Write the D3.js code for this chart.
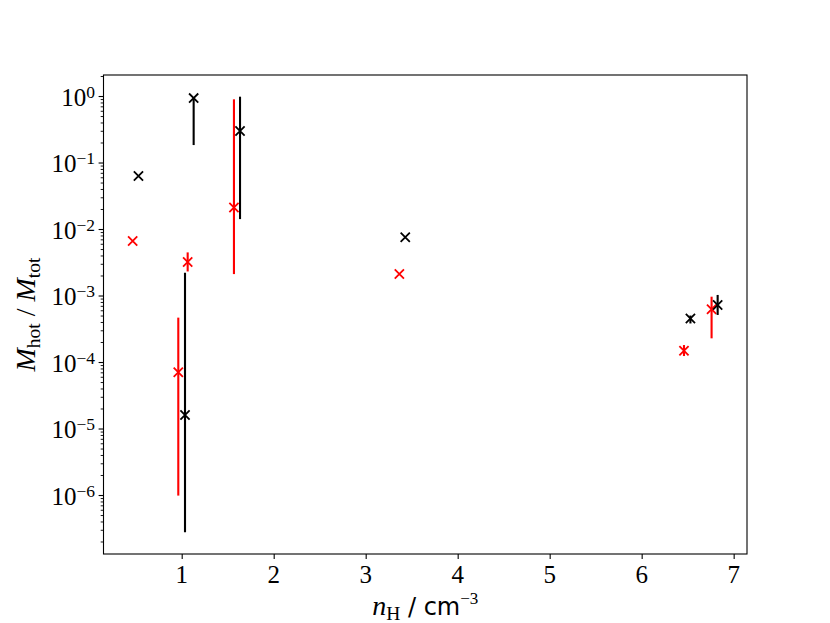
<!DOCTYPE html>
<html>
<head>
<meta charset="utf-8">
<script src="https://cdn.jsdelivr.net/npm/d3@7"></script>
<style>
    body { margin: 0; background: #fff; }
    .tick-lbl { font-family: "Liberation Serif", serif; font-size: 25px; fill: #000; }
</style>
</head>
<body>
<div id="chart"></div>
<script>
// values (red and black series, with vertical error bars)
var blackX    = [0.53, 1.13, 1.634, 1.036, 3.43, 6.53, 6.826];
var blackY    = [0.0627, 0.93, 0.298, 1.6e-5, 7.5e-3, 4.5e-4, 7.2e-4];
var blackLow  = [null, 0.183, 0.0141, 2.75e-7, null, 3.8e-4, 5.1e-4];
var blackHigh = [null, 0.95, 0.977, 2.2e-3, null, 5.0e-4, 1.02e-3];

var redX    = [0.467, 1.065, 1.568, 0.963, 3.366, 6.46, 6.76];
var redY    = [6.6e-3, 3.2e-3, 0.021, 7e-5, 2.1e-3, 1.48e-4, 6.2e-4];
var redLow  = [null, 2.3e-3, 2.1e-3, 9.8e-7, null, 1.23e-4, 2.27e-4];
var redHigh = [null, 4.45e-3, 0.892, 4.65e-4, null, 1.8e-4, 9.6e-4];

var xTicks = [1, 2, 3, 4, 5, 6, 7];
var yExponents = [0, -1, -2, -3, -4, -5, -6];

var param = {
    width: 830,
    height: 623,
    xDomain: [0.15, 7.145],
    yDomain: [Math.pow(10, -6.887), Math.pow(10, 0.316)],
    series: [
        {x: redX, y: redY, low: redLow, high: redHigh, color: "#ff0000"},
        {x: blackX, y: blackY, low: blackLow, high: blackHigh, color: "#000000"}
    ]
};

function drawChart(param) {
    var margin = {top: 75, right: 83, bottom: 69, left: 103.5},
        width = param.width - margin.left - margin.right,
        height = param.height - margin.top - margin.bottom;

    var xScale = d3.scaleLinear().domain(param.xDomain).range([0, width]);
    var yScale = d3.scaleLog().domain(param.yDomain).range([height, 0]);

    var svg = d3.select("#chart").append("svg")
        .attr("width", param.width).attr("height", param.height);

    var g = svg.append("g").attr("transform", "translate(" + margin.left + "," + margin.top + ")");

    //---- axes (ticks only, labels drawn by hand for the 10^n format)
    var xAxis = d3.axisBottom(xScale).tickValues(xTicks).tickSize(4.9).tickFormat("");
    var gx = g.append("g").attr("transform", "translate(0," + height + ")").call(xAxis);
    gx.select(".domain").remove();
    gx.selectAll("line").attr("stroke-width", 1.1);

    // minor log ticks
    var minor = [];
    for (var e = -7; e <= 0; e++) {
        for (var m = 2; m <= 9; m++) {
            var v = m * Math.pow(10, e);
            if (v >= param.yDomain[0] && v <= param.yDomain[1]) minor.push(v);
        }
    }
    var majors = yExponents.map(function(d) { return Math.pow(10, d); });
    var gyMinor = g.append("g").call(d3.axisLeft(yScale).tickValues(minor).tickSize(2.8).tickFormat(""));
    gyMinor.select(".domain").remove();
    gyMinor.selectAll("line").attr("stroke-width", 0.9);
    var gy = g.append("g").call(d3.axisLeft(yScale).tickValues(majors).tickSize(4.9).tickFormat(""));
    gy.select(".domain").remove();
    gy.selectAll("line").attr("stroke-width", 1.1);

    // x tick labels
    g.selectAll(".xlbl").data(xTicks).enter().append("text")
        .attr("class", "tick-lbl")
        .attr("x", function(d) { return xScale(d); })
        .attr("y", height + 29)
        .attr("text-anchor", "middle")
        .text(function(d) { return d; });

    // y tick labels 10^n
    var ylbl = g.selectAll(".ylbl").data(yExponents).enter().append("text")
        .attr("class", "tick-lbl")
        .attr("x", -8.5)
        .attr("y", function(d) { return yScale(Math.pow(10, d)) + 9.5; })
        .attr("text-anchor", "end");
    ylbl.append("tspan").text("10");
    ylbl.append("tspan").attr("dy", -8).style("font-size", "17.5px")
        .text(function(d) { return d === 0 ? "0" : "\u2212" + Math.abs(d); });

    //---- error bars and markers
    param.series.forEach(function(s) {
        var pts = s.x.map(function(x, i) { return {x: x, y: s.y[i], lo: s.low[i], hi: s.high[i]}; });

        g.selectAll(null).data(pts.filter(function(d) { return d.lo !== null; })).enter()
            .append("line")
            .attr("x1", function(d) { return xScale(d.x); })
            .attr("x2", function(d) { return xScale(d.x); })
            .attr("y1", function(d) { return yScale(d.lo); })
            .attr("y2", function(d) { return yScale(d.hi); })
            .attr("stroke", s.color).attr("stroke-width", 2.1);

        var r = 4.6;
        g.selectAll(null).data(pts).enter()
            .append("path")
            .attr("transform", function(d) { return "translate(" + xScale(d.x) + "," + yScale(d.y) + ")"; })
            .attr("d", "M" + (-r) + "," + (-r) + "L" + r + "," + r + "M" + (-r) + "," + r + "L" + r + "," + (-r))
            .attr("stroke", s.color).attr("stroke-width", 1.8).attr("fill", "none");
    });

    //---- frame
    g.append("rect").attr("width", width).attr("height", height)
        .attr("fill", "none").attr("stroke", "#000").attr("stroke-width", 1.1);

    //---- axis titles
    var xl = svg.append("text")
        .attr("x", margin.left + width / 2).attr("y", 615)
        .attr("text-anchor", "middle")
        .style("font-family", "Liberation Serif").style("font-size", "28px");
    xl.append("tspan").style("font-style", "italic").text("n");
    xl.append("tspan").attr("dy", 5).style("font-size", "19.5px").text("H");
    xl.append("tspan").attr("dy", -5).style("font-family", "DejaVu Sans").style("font-size", "24px").text(" / cm");
    xl.append("tspan").attr("dy", -11).style("font-size", "17px").text("\u22123");

    var yl = svg.append("text")
        .attr("transform", "translate(35," + (margin.top + height / 2) + ") rotate(-90)")
        .attr("text-anchor", "middle")
        .style("font-family", "Liberation Serif").style("font-size", "28px");
    yl.append("tspan").style("font-style", "italic").text("M");
    yl.append("tspan").attr("dy", 5).style("font-size", "19.5px").text("hot");
    yl.append("tspan").attr("dy", -5).text(" / ");
    yl.append("tspan").style("font-style", "italic").text("M");
    yl.append("tspan").attr("dy", 5).style("font-size", "19.5px").text("tot");
}

drawChart(param);
</script>
</body>
</html>
